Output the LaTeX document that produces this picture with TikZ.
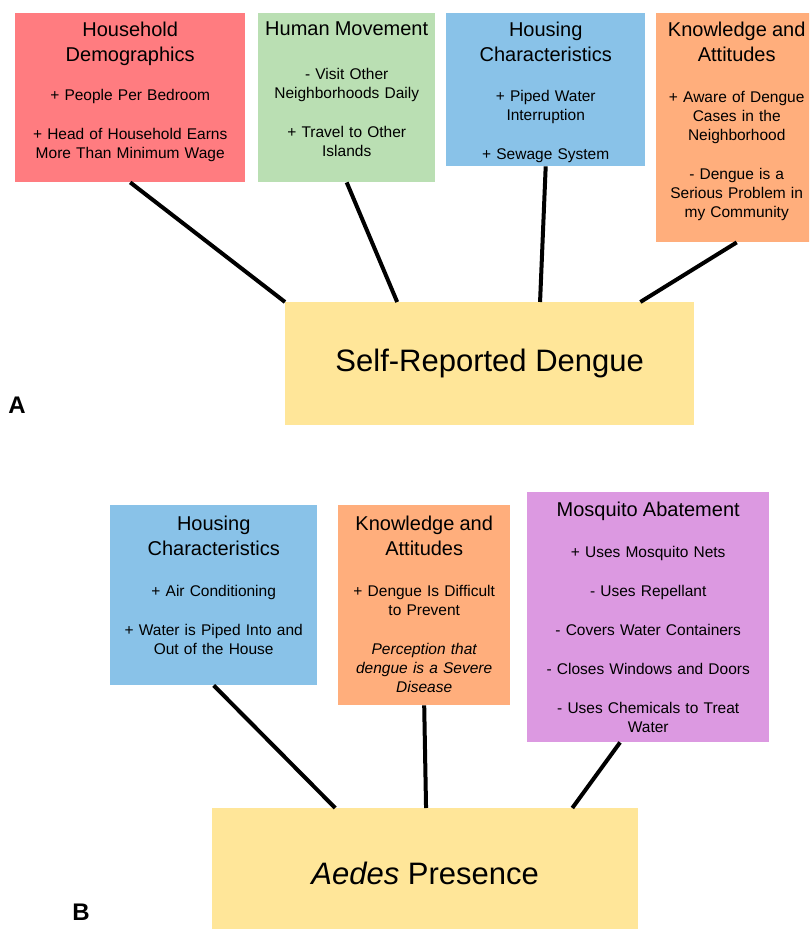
\documentclass[tikz,border=0pt]{standalone}
\usepackage{fontspec}
\setmainfont{Liberation Sans}
\usetikzlibrary{calc}
\definecolor{hdred}{HTML}{FF7C80}
\definecolor{hmgreen}{HTML}{BADFB3}
\definecolor{hcblue}{HTML}{89C2E8}
\definecolor{kaorange}{HTML}{FFAE7C}
\definecolor{dyellow}{HTML}{FFE699}
\definecolor{mapurple}{HTML}{DC99E1}
\newcommand{\ttlfont}{\fontsize{20}{25}\selectfont}
\newcommand{\gap}{\\[20pt]}

\begin{document}
\begin{tikzpicture}[x=1pt, y=-1pt,
    rect/.style={rectangle, anchor=north west, inner sep=0pt, draw=none},
    txt/.style={anchor=north, align=center, inner sep=0pt, font=\fontsize{15.5}{19}\selectfont},
    big/.style={font=\fontsize{31}{36}\selectfont},
    panel/.style={font=\fontsize{24}{28}\selectfont\bfseries},
    link/.style={line width=4pt}]
    \clip (0,0) rectangle (809,929);

    % Panel A
    \node[rect, fill=hdred, minimum width=230pt, minimum height=169pt] (hd-a) at (15,13) {};
    \node[rect, fill=hmgreen, minimum width=177pt, minimum height=169pt] (hm-a) at (258,13) {};
    \node[rect, fill=hcblue, minimum width=199pt, minimum height=153pt] (hc-a) at (446,13) {};
    \node[rect, fill=kaorange, minimum width=161pt, minimum height=229pt] (ka-a) at (656,13) {};
    \node[rect, fill=dyellow, minimum width=409pt, minimum height=123pt, big] (srd) at (285,302) {Self-Reported Dengue};

    \node[txt, text width=225pt] (hd-a-t) at ([yshift=-9pt]hd-a.north)
        {{\ttlfont Household\\Demographics\par}\vspace{20pt}
         + People Per Bedroom\gap + Head of Household Earns\\More Than Minimum Wage};
    \node[txt, text width=175pt] (hm-a-t) at ([yshift=-9pt]hm-a.north)
        {{\ttlfont Human Movement\par}\vspace{25pt}
         - Visit Other\\Neighborhoods Daily\gap + Travel to Other\\Islands};
    \node[txt, text width=195pt] (hc-a-t) at ([yshift=-9pt]hc-a.north)
        {{\ttlfont Housing\\Characteristics\par}\vspace{21pt}
         + Piped Water\\Interruption\gap + Sewage System};
    \node[txt, text width=160pt] (ka-a-t) at ([yshift=-9pt]ka-a.north)
        {{\ttlfont Knowledge and\\Attitudes\par}\vspace{22pt}
         + Aware of Dengue\\Cases in the\\Neighborhood\gap - Dengue is a\\Serious Problem in\\my Community};

    \draw[link] (hd-a.south) -- (srd.north west);
    \draw[link] (hm-a.south) -- ($(srd.north west)!0.274!(srd.north east)$);
    \draw[link] (hc-a.south) -- ($(srd.north west)!0.623!(srd.north east)$);
    \draw[link] (ka-a.south) -- ($(srd.north west)!0.868!(srd.north east)$);

    \node[panel] (lbl-a) at (17,405) {A};

    % Panel B
    \node[rect, fill=hcblue, minimum width=207pt, minimum height=180pt] (hc-b) at (110,505) {};
    \node[rect, fill=kaorange, minimum width=172pt, minimum height=200pt] (ka-b) at (338,505) {};
    \node[rect, fill=mapurple, minimum width=242pt, minimum height=250pt] (ma-b) at (527,492) {};
    \node[rect, fill=dyellow, minimum width=426pt, minimum height=130pt, big] (aedes) at (212,808) {\textit{Aedes} Presence};

    \node[txt, text width=205pt] (hc-b-t) at ([yshift=-11pt]hc-b.north)
        {{\ttlfont Housing\\Characteristics\par}\vspace{22pt}
         + Air Conditioning\gap + Water is Piped Into and\\Out of the House};
    \node[txt, text width=170pt] (ka-b-t) at ([yshift=-11pt]ka-b.north)
        {{\ttlfont Knowledge and\\Attitudes\par}\vspace{22pt}
         + Dengue Is Difficult\\to Prevent\gap {\itshape Perception that\\dengue is a Severe\\Disease}};
    \node[txt, text width=240pt] (ma-b-t) at ([yshift=-10pt]ma-b.north)
        {{\ttlfont Mosquito Abatement\par}\vspace{22pt}
         + Uses Mosquito Nets\gap - Uses Repellant\gap - Covers Water Containers\gap
         - Closes Windows and Doors\gap - Uses Chemicals to Treat\\Water};

    \draw[link] (hc-b.south) -- ($(aedes.north west)!0.289!(aedes.north east)$);
    \draw[link] (ka-b.south) -- ($(aedes.north west)!0.502!(aedes.north east)$);
    \draw[link] ($(ma-b.south west)!0.384!(ma-b.south east)$) -- ($(aedes.north west)!0.845!(aedes.north east)$);

    \node[panel] (lbl-b) at (81,912) {B};
\end{tikzpicture}
\end{document}
